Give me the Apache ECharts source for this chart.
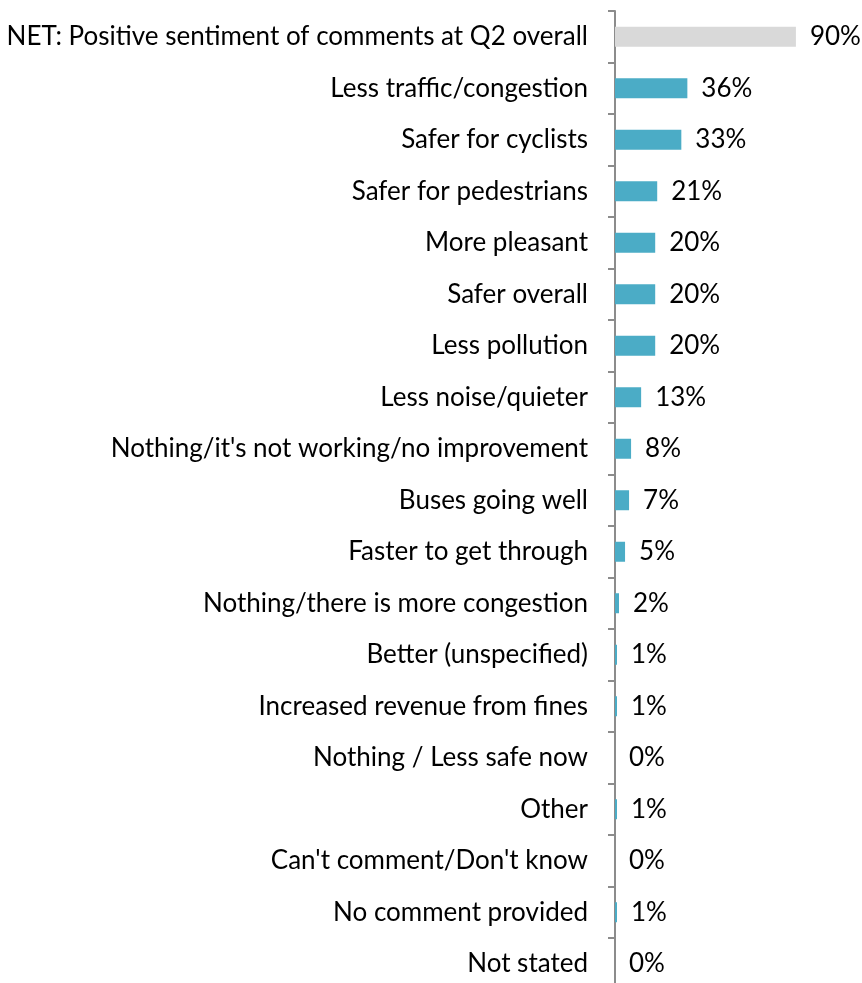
<!DOCTYPE html>
<html>
<head>
<meta charset="utf-8">
<script src="https://cdn.jsdelivr.net/npm/echarts@6/dist/echarts.min.js"></script>
<style>
  html, body { margin: 0; padding: 0; background: #ffffff; overflow: hidden; }
  #chart { width: 862px; height: 995px; }
</style>
</head>
<body>
<div id="chart"></div>
<script>
// Comment themes and the share of respondents mentioning each
const categories = [
  "NET: Positive sentiment of comments at Q2 overall",
  "Less traffic/congestion",
  "Safer for cyclists",
  "Safer for pedestrians",
  "More pleasant",
  "Safer overall",
  "Less pollution",
  "Less noise/quieter",
  "Nothing/it's not working/no improvement",
  "Buses going well",
  "Faster to get through",
  "Nothing/there is more congestion",
  "Better (unspecified)",
  "Increased revenue from fines",
  "Nothing / Less safe now",
  "Other",
  "Can't comment/Don't know",
  "No comment provided",
  "Not stated"
];
const percentValues = [90, 36, 33, 21, 20, 20, 20, 13, 8, 7, 5, 2, 1, 1, 0, 1, 0, 1, 0];

const netColor = "#D9D9D9";
const barColor = "#4BACC6";
const fontFamily = "Lato, 'Open Sans', sans-serif";

const chart = echarts.init(document.getElementById("chart"), null, { renderer: "canvas" });

chart.setOption({
  backgroundColor: "#ffffff",
  animation: false,
  grid: { left: 615, width: 201, top: 11, height: 978.5, containLabel: false },
  xAxis: {
    type: "value",
    min: 0,
    max: 100,
    show: false
  },
  yAxis: {
    type: "category",
    inverse: true,
    data: categories,
    axisLine: { show: true, lineStyle: { color: "#8C8C8C", width: 2 } },
    axisTick: { show: true, inside: false, length: 7, lineStyle: { color: "#8C8C8C", width: 2 } },
    axisLabel: { color: "#000000", fontSize: 26, fontFamily: fontFamily, margin: 27 },
    splitLine: { show: false }
  },
  series: [{
    type: "bar",
    data: percentValues.map((v, i) => ({
      value: v,
      itemStyle: { color: i === 0 ? netColor : barColor }
    })),
    barWidth: 20,
    label: {
      show: true,
      position: "right",
      distance: 14,
      color: "#000000",
      fontSize: 26,
      fontFamily: fontFamily,
      formatter: p => p.value + "%"
    }
  }]
});
</script>
</body>
</html>
